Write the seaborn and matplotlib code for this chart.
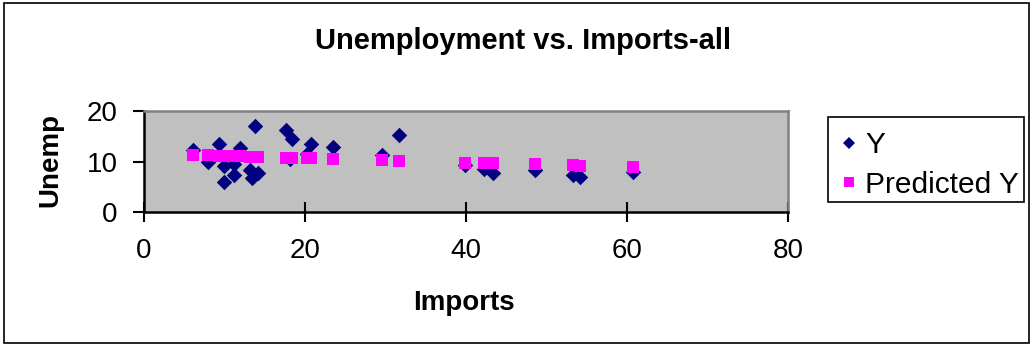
import matplotlib
matplotlib.use("Agg")
import matplotlib.pyplot as plt
import seaborn as sns
from matplotlib.lines import Line2D
from matplotlib.patches import Rectangle

# Imports (x) against unemployment (Y) and the fitted regression values
imports = [6.1, 8.0, 9.3, 9.9, 9.9, 11.2, 11.2, 11.9, 13.2, 13.4, 13.8, 14.2,
           17.7, 18.1, 18.4, 20.2, 20.7, 23.5, 29.6, 31.7, 39.9, 42.2, 43.4,
           48.6, 53.3, 54.1, 60.7]
unemp = [12.2, 10.0, 13.5, 9.1, 6.0, 9.5, 7.3, 12.6, 8.3, 6.8, 17.0, 7.8,
         16.3, 10.4, 14.5, 11.5, 13.5, 12.8, 11.2, 15.2, 9.3, 8.6, 7.8,
         8.3, 7.3, 7.0, 8.0]
predicted = [11.29, 11.21, 11.15, 11.12, 11.12, 11.07, 11.07, 11.04, 10.98,
             10.97, 10.95, 10.94, 10.78, 10.76, 10.75, 10.67, 10.65, 10.53,
             10.26, 10.17, 9.80, 9.70, 9.65, 9.42, 9.21, 9.18, 8.89]
x_ticks = [0, 20, 40, 60, 80]
y_ticks = [0, 10, 20]
series_names = ["Y", "Predicted Y"]

NAVY = "#000080"
MAGENTA = "#FF00FF"

sns.set_theme(style="white")
plt.rcParams["font.family"] = ["Liberation Sans", "DejaVu Sans"]
plt.rcParams["text.color"] = "black"
plt.rcParams["xtick.color"] = "black"
plt.rcParams["ytick.color"] = "black"

W, H = 1030, 345
fig = plt.figure(figsize=(W / 100, H / 100), dpi=100)
fig.patch.set_facecolor("white")

# outer chart border
fig.patches.append(Rectangle((4 / W, 2 / H), 1025 / W, 340 / H, transform=fig.transFigure,
                             fill=False, edgecolor="black", linewidth=1.2))

ax = fig.add_axes([144 / W, 1 - 212 / H, 644 / W, 101 / H])
ax.set_facecolor("#C0C0C0")

sns.scatterplot(x=imports, y=unemp, marker="D", s=62, color=NAVY, linewidth=0,
                ax=ax, zorder=3)
sns.scatterplot(x=imports, y=predicted, marker="s", s=80, color=MAGENTA, linewidth=0,
                ax=ax, zorder=4)

ax.set_xlim(0, 80)
ax.set_ylim(0, 20)
ax.set_xticks(x_ticks)
ax.set_yticks(y_ticks)
ax.set_xticklabels([str(v) for v in x_ticks])
ax.set_yticklabels([str(v) for v in y_ticks])
ax.tick_params(axis="x", direction="inout", length=14, width=1.5, pad=12,
               labelsize=20, colors="black", bottom=True)
ax.tick_params(axis="y", direction="out", length=8, width=1.5, pad=11,
               labelsize=20, colors="black", left=True)

for side in ("left", "bottom"):
    ax.spines[side].set_color("black")
    ax.spines[side].set_linewidth(1.8)
for side in ("top", "right"):
    ax.spines[side].set_color("#808080")
    ax.spines[side].set_linewidth(1.8)
ax.set_xlabel("")
ax.set_ylabel("")

fig.text(523 / W, 1 - 49 / H, "Unemployment vs. Imports-all", ha="center",
         va="baseline", fontsize=21, fontweight="bold", color="black")
fig.text(464 / W, 1 - 310 / H, "Imports", ha="center", va="baseline",
         fontsize=20, fontweight="bold", color="black")
fig.text(50 / W, 1 - 160 / H, "Unemp", ha="center", va="center", rotation=90,
         fontsize=20, fontweight="bold", color="black")

# legend box and entries
fig.patches.append(Rectangle((828 / W, 1 - 202 / H), 196 / W, 85 / H,
                             transform=fig.transFigure, fill=False,
                             edgecolor="black", linewidth=1.2))
handles = [
    Line2D([], [], linestyle="none", marker="D", markersize=6.5, color=NAVY,
           markeredgewidth=0),
    Line2D([], [], linestyle="none", marker="s", markersize=6.5, color=MAGENTA,
           markeredgewidth=0),
]
leg = fig.legend(handles, series_names, loc="upper left",
                 bbox_to_anchor=(840 / W, 1 - 131 / H), frameon=False,
                 fontsize=21.5, borderpad=0, handlelength=0.6,
                 handletextpad=0.25, labelspacing=0.4, borderaxespad=0)
for t in leg.get_texts():
    t.set_color("black")

fig.savefig("out.png", dpi=100)
